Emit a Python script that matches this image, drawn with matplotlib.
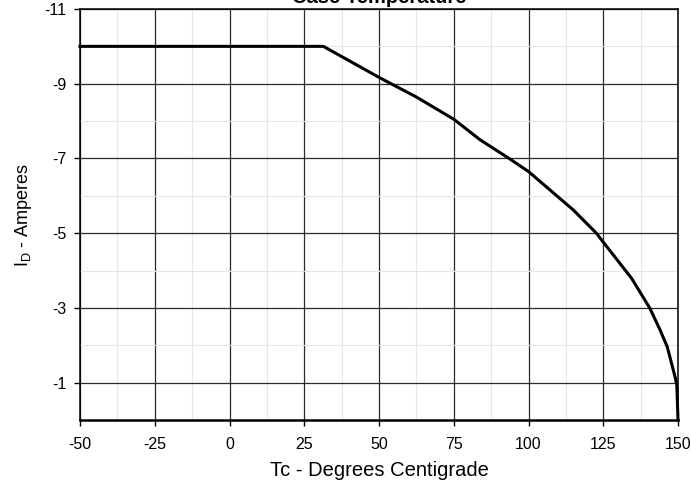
import matplotlib.pyplot as plt
from matplotlib.ticker import MultipleLocator, FixedLocator

plt.rcParams["font.family"] = ["Liberation Sans", "DejaVu Sans"]
plt.rcParams["axes.unicode_minus"] = False

# case temperature (deg C) vs drain current (A)
temps = [-50, 31.4, 50, 62.6, 75, 83.8, 93.5, 100, 115, 122.7, 125.3, 134.5,
         140.6, 144, 146.4, 149, 149.6, 150]
amps = [-10, -10, -9.17, -8.64, -8.05, -7.5, -7.0, -6.65, -5.62, -5.0, -4.73,
        -3.79, -2.99, -2.41, -1.96, -1.16, -0.94, 0]

x_ticks = [-50, -25, 0, 25, 50, 75, 100, 125, 150]
y_ticks = [-1, -3, -5, -7, -9, -11]
y_minor = [-2, -4, -6, -8, -10]

fig = plt.figure(figsize=(6.91, 4.82), dpi=100)
ax = fig.add_axes([80 / 691, 1 - 420 / 482, 598 / 691, 411 / 482])

ax.set_xlim(-50, 150)
ax.set_ylim(0, -11)

ax.xaxis.set_major_locator(FixedLocator(x_ticks))
ax.xaxis.set_minor_locator(MultipleLocator(12.5))
ax.yaxis.set_major_locator(FixedLocator(y_ticks))
ax.yaxis.set_minor_locator(FixedLocator(y_minor))

ax.grid(which="major", color="#2a2a2a", linewidth=0.9)
ax.grid(which="minor", color="#e6e6e6", linewidth=0.8)
ax.set_axisbelow(True)

ax.plot(temps, amps, color="black", linewidth=2.2, solid_joinstyle="round",
        clip_on=False, zorder=3)

ax.tick_params(which="major", direction="out", length=4, width=1,
               labelsize=11.5, color="black")
ax.tick_params(axis="x", which="major", pad=8)
ax.tick_params(axis="y", which="major", pad=6)
ax.tick_params(which="minor", length=0)

for side in ["top", "left", "right"]:
    ax.spines[side].set_linewidth(1.1)
ax.spines["bottom"].set_linewidth(1.8)

ax.set_xlabel("Tc - Degrees Centigrade", fontsize=14.5, labelpad=7)
ax.set_ylabel(r"I$_\mathregular{D}$ - Amperes", fontsize=13, labelpad=7)
ax.set_title("Case Temperature", fontsize=14.5, fontweight="bold", pad=4)

fig.savefig("out.png", dpi=100)
